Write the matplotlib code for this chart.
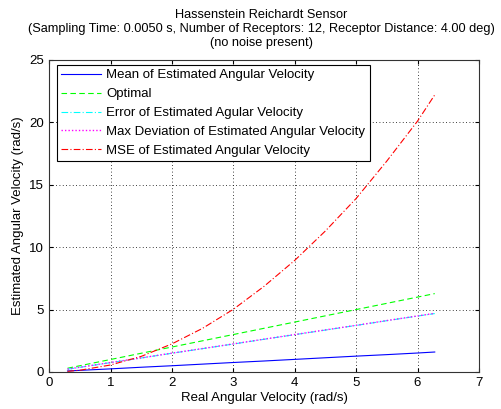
import matplotlib.pyplot as plt
import numpy as np

plt.rcParams['font.family'] = ['Liberation Sans', 'DejaVu Sans']

real_vel = [0.3, 0.5, 1.0, 1.5, 2.0, 2.5, 3.0, 3.5, 4.0, 4.5, 5.0, 5.5, 6.0, 6.28]
mean_est = [0.08, 0.13, 0.25, 0.38, 0.50, 0.63, 0.76, 0.88, 1.01, 1.14, 1.27, 1.39, 1.52, 1.60]
optimal = [0.3, 0.5, 1.0, 1.5, 2.0, 2.5, 3.0, 3.5, 4.0, 4.5, 5.0, 5.5, 6.0, 6.28]
error_est = [0.22, 0.37, 0.75, 1.12, 1.50, 1.87, 2.24, 2.62, 2.99, 3.36, 3.73, 4.11, 4.48, 4.68]
max_dev = [0.23, 0.38, 0.76, 1.13, 1.51, 1.88, 2.25, 2.63, 3.00, 3.37, 3.74, 4.12, 4.49, 4.70]
mse_est = [0.05, 0.14, 0.56, 1.25, 2.25, 3.50, 5.02, 6.86, 8.94, 11.3, 13.9, 16.9, 20.1, 22.2]

fs = 9.5

fig = plt.figure(figsize=(5.01, 4.09), dpi=100)
ax = fig.add_axes([0.098, 0.0905, 0.858, 0.763])

ax.plot(real_vel, mean_est, color='blue', lw=0.8, label='Mean of Estimated Angular Velocity')
ax.plot(real_vel, optimal, color='#00ff00', lw=0.8, ls=(0, (5, 3)), label='Optimal')
ax.plot(real_vel, error_est, color='cyan', lw=0.8, ls=(0, (6, 2, 1, 2)), label='Error of Estimated Agular Velocity')
ax.plot(real_vel, max_dev, color='magenta', lw=1.0, ls=(0, (1, 1.5)), label='Max Deviation of Estimated Angular Velocity')
ax.plot(real_vel, mse_est, color='red', lw=0.8, ls=(0, (6, 2, 1, 2)), label='MSE of Estimated Angular Velocity')

ax.set_xlim(0, 7)
ax.set_ylim(0, 25)
ax.set_xticks(range(0, 8))
ax.set_yticks(range(0, 26, 5))
ax.grid(True, color='black', ls=(0, (1, 3)), lw=0.6)
ax.tick_params(direction='in', top=True, right=True, labelsize=fs, length=3)
for s in ax.spines.values():
    s.set_color('#333333')
    s.set_linewidth(0.8)

ax.set_xlabel('Real Angular Velocity (rad/s)', fontsize=fs, labelpad=2)
ax.set_ylabel('Estimated Angular Velocity (rad/s)', fontsize=fs, labelpad=4)
fig.text(0.522, 0.978, 'Hassenstein Reichardt Sensor\n(Sampling Time: 0.0050 s, Number of Receptors: 12, Receptor Distance: 4.00 deg)\n(no noise present)',
         fontsize=9.2, linespacing=1.25, ha='center', va='top')

leg = ax.legend(loc='upper left', bbox_to_anchor=(0.018, 0.985), fontsize=fs, fancybox=False,
                framealpha=1, edgecolor='black', handlelength=3.0, borderaxespad=0,
                labelspacing=0.5, handletextpad=0.4, borderpad=0.35)
leg.get_frame().set_linewidth(0.8)

fig.savefig('out.png', dpi=100)
